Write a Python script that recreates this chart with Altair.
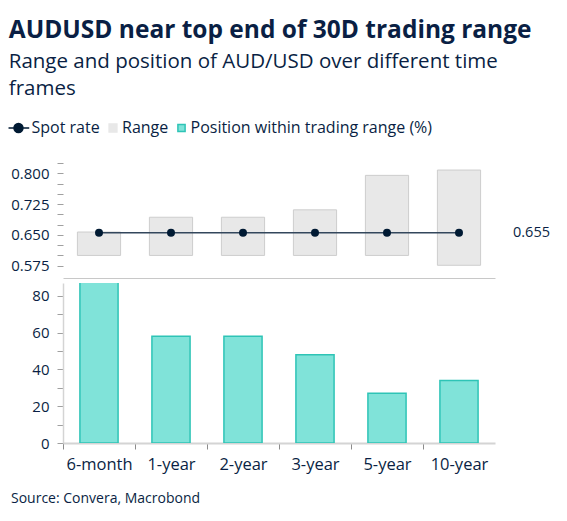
import altair as alt
import pandas as pd

# ---- data ----
categories = ["6-month", "1-year", "2-year", "3-year", "5-year", "10-year"]
range_low = [0.600, 0.600, 0.600, 0.600, 0.600, 0.576]
range_high = [0.657, 0.693, 0.693, 0.711, 0.795, 0.808]
spot_rate = [0.655, 0.655, 0.655, 0.655, 0.655, 0.655]
position_pct = [96, 58, 58, 48, 27, 34]
legend_labels = ["Spot rate", "Range", "Position within trading range (%)"]
top_ticks = [0.575, 0.600, 0.625, 0.650, 0.675, 0.700, 0.725, 0.750, 0.775, 0.800, 0.825]
bottom_ticks = [0, 10, 20, 30, 40, 50, 60, 70, 80]
source_text = ["Source: Convera, Macrobond"]

df = pd.DataFrame({
    "cat": categories,
    "low": range_low,
    "high": range_high,
    "spot": spot_rate,
    "pos": position_pct,
})
legend_df = pd.DataFrame({"series": legend_labels})
source_df = pd.DataFrame({"t": source_text})

NAVY = "#0a1f44"
FONT = "Open Sans"
W = 432
H_TOP = 117
H_BOT = 160

x_top = alt.X("cat:N", sort=categories,
              scale=alt.Scale(paddingInner=0, paddingOuter=0),
              axis=alt.Axis(title=None, labels=False, ticks=False,
                            domainColor="#c8c8c8", domainWidth=1))

base_top = alt.Chart(df).encode(x=x_top)

range_bars = base_top.mark_bar(
    width=alt.RelativeBandSize(0.6), color="#e8e8e8", stroke="#cdcdcd", strokeWidth=1
).encode(
    y=alt.Y("low:Q",
            scale=alt.Scale(domain=[0.545, 0.83], nice=False, zero=False),
            axis=alt.Axis(title=None, values=top_ticks, tickCount=40, domain=False, grid=False,
                          tickSize=6, tickColor="#a0a0a0", labelOverlap=False,
                          labelExpr="(round(datum.value*1000) - 575) % 75 == 0 ? format(datum.value, '.3f') : ''")),
    y2="high:Q",
)

spot_line = base_top.mark_line(color="#33475c", strokeWidth=1.5).encode(y="spot:Q")
spot_pts = base_top.mark_point(filled=True, size=64, color="#001a33", opacity=1).encode(y="spot:Q")
spot_lbl = base_top.mark_text(align="left", dx=54, fontSize=14.5, color=NAVY, font=FONT).encode(
    y="spot:Q", text=alt.Text("spot:Q", format=".3f")
).transform_filter(alt.datum.cat == categories[-1])

legend_layer = alt.Chart(legend_df).mark_point(filled=True, opacity=0).encode(
    x=alt.value(0), y=alt.value(0),
    color=alt.Color("series:N", sort=legend_labels,
                    scale=alt.Scale(domain=legend_labels, range=["#001a33", "#e8e8e8", "#80e3d9"]),
                    legend=alt.Legend(title=None)),
    shape=alt.Shape("series:N", sort=legend_labels,
                    scale=alt.Scale(domain=legend_labels, range=[
                        "M-2.33,0L1.12,0M-1.42,0A0.75,0.75,0,1,1,0.08,0A0.75,0.75,0,1,1,-1.42,0Z",
                        "M-0.65,-0.65L0.65,-0.65L0.65,0.65L-0.65,0.65Z",
                        "M-0.6,-0.6L0.6,-0.6L0.6,0.6L-0.6,0.6Z",
                    ]),
                    legend=alt.Legend(title=None)),
    stroke=alt.Stroke("series:N", sort=legend_labels,
                      scale=alt.Scale(domain=legend_labels, range=["#001a33", "#e8e8e8", "#2ec4b6"]),
                      legend=alt.Legend(title=None)),
)

top = alt.layer(range_bars, spot_line, spot_pts, spot_lbl, legend_layer).properties(width=W, height=H_TOP)

x_bot = alt.X("cat:N", sort=categories,
              scale=alt.Scale(paddingInner=0, paddingOuter=0),
              axis=alt.Axis(title=None, labelAngle=0, tickOffset=-W / 12, labelOffset=W / 12,
                            tickSize=6, tickColor="#8c8c8c", domainColor="#d4d4d4", domainWidth=2,
                            labelPadding=7.5, labelFontSize=16.5))

pos_bars = alt.Chart(df).mark_bar(
    width=alt.RelativeBandSize(0.53), color="#80e3d9", stroke="#2ec4b6", strokeWidth=1.5, clip=True
).encode(
    x=x_bot,
    y=alt.Y("pos:Q", scale=alt.Scale(domain=[0, 87], nice=False),
            axis=alt.Axis(title=None, values=bottom_ticks, tickCount=40, grid=False, tickSize=6,
                          tickColor="#a0a0a0", domainColor="#d4d4d4", domainWidth=1.5,
                          labelOverlap=False,
                          labelExpr="datum.value % 20 == 0 ? datum.label : ''")),
)

source = alt.Chart(source_df).mark_text(align="left", baseline="middle", fontSize=14,
                                        color=NAVY, font=FONT).encode(
    text="t:N", x=alt.value(-52), y=alt.value(216)
)

bottom = alt.layer(pos_bars, source).properties(width=W, height=H_BOT)

chart = alt.vconcat(top, bottom, spacing=5).properties(
    padding={"left": 0, "top": 9, "right": 0, "bottom": 0},
    title=alt.Title(
        text="AUDUSD near top end of 30D trading range",
        subtitle=["Range and position of AUD/USD over different time", "frames"],
        anchor="start", frame="bounds", fontSize=24.5, fontWeight="bold", color=NAVY,
        subtitleFontSize=20.5, subtitleColor=NAVY, subtitleLineHeight=27.3, subtitlePadding=9,
        font=FONT, subtitleFont=FONT, offset=19, dx=-2,
    )
).configure_view(stroke=None).configure_axis(
    labelFont=FONT, labelFontSize=15, labelColor=NAVY, labelPadding=8
).configure_legend(
    orient="none", legendX=-48.5, legendY=-41, direction="horizontal",
    labelFont=FONT, labelFontSize=16, labelColor=NAVY, symbolSize=144, labelLimit=0,
    symbolStrokeWidth=1.5, symbolOpacity=1, labelOffset=1, columnPadding=4.5,
)

chart.save("out.html", embed_options={"renderer": "svg", "actions": False})
